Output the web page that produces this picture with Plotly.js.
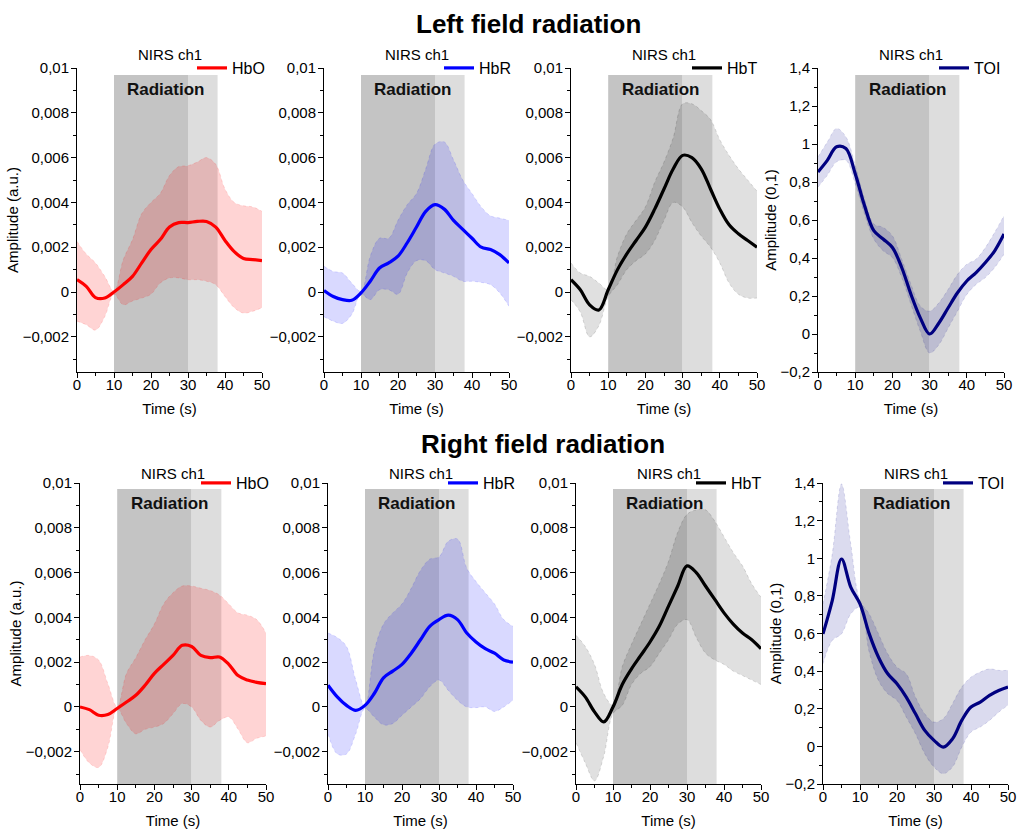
<!DOCTYPE html>
<html>
<head>
<meta charset="utf-8">
<script src="https://cdn.plot.ly/plotly-3.0.1.min.js"></script>
<style>
html,body{margin:0;padding:0;background:#fff;}
#chart{width:1017px;height:830px;}
</style>
</head>
<body>
<div id="chart"></div>
<script>
// ---------------- DATA ----------------
const time = [0,2.5,5,7.5,10,12.5,15,17.5,20,22.5,25,27.5,30,32.5,35,37.5,40,42.5,45,47.5,50];

// Stimulation timing (s)
const stimOn = 10, stimEnd = 30, recEnd = 38;

// Left field radiation
const hboL_mean  = [0.00055,0.00025,-0.00025,-0.00027,0.0,0.00033,0.0007,0.0013,0.0019,0.00234,0.0029,0.0031,0.0031,0.00315,0.00315,0.0029,0.0023,0.0018,0.0015,0.00145,0.0014];
const hboL_upper = [0.00226,0.0017,0.0013,0.0007,0.00003,0.00144,0.00234,0.0035,0.0040,0.0044,0.0052,0.0056,0.00564,0.0058,0.0060,0.0057,0.0046,0.0040,0.00385,0.0038,0.0036];
const hboL_lower = [-0.0013,-0.00146,-0.0017,-0.0011,-0.0001,-0.00057,-0.0004,-0.00027,-0.0001,0.0004,0.00063,0.00063,0.00055,0.00055,0.00048,0.00033,-0.0002,-0.0007,-0.00094,-0.00086,-0.0007];

const hbrL_mean  = [0.00007,-0.0002,-0.00034,-0.00037,-0.00004,0.00048,0.00107,0.0013,0.0016,0.0022,0.0029,0.0036,0.0039,0.0037,0.0032,0.0028,0.0024,0.0020,0.0019,0.00167,0.0013];
const hbrL_upper = [0.00115,0.00092,0.00085,0.0004,0.00003,0.0016,0.0024,0.0024,0.0032,0.0039,0.0044,0.0055,0.0066,0.0067,0.0059,0.0050,0.0044,0.0038,0.0034,0.0033,0.0032];
const hbrL_lower = [-0.0011,-0.0013,-0.0014,-0.0010,-0.0001,-0.00034,0.0001,0.0001,-0.0001,0.00085,0.0014,0.0014,0.0010,0.00085,0.0007,0.00048,0.00048,0.00043,0.00033,-0.00004,-0.00064];

const hbtL_mean  = [0.00055,0.0001,-0.00057,-0.0008,0.0001,0.0010,0.0017,0.0023,0.0029,0.0037,0.0046,0.0055,0.0061,0.0060,0.0055,0.0046,0.0037,0.0030,0.0026,0.0023,0.0020];
const hbtL_upper = [0.0013,0.00085,0.0007,0.0004,0.0001,0.0016,0.0026,0.0032,0.0038,0.0049,0.0058,0.0069,0.0084,0.0084,0.0081,0.0077,0.0068,0.0061,0.0055,0.0050,0.0045];
const hbtL_lower = [-0.00034,-0.0009,-0.0020,-0.0015,-0.0002,0.00033,0.0010,0.0014,0.0017,0.0023,0.0032,0.0040,0.0038,0.0031,0.0025,0.0020,0.0013,0.0004,-0.0001,-0.00027,-0.00027];

const toiL_mean  = [0.853,0.914,0.985,0.976,0.844,0.676,0.544,0.50,0.455,0.35,0.208,0.085,0.0,0.058,0.138,0.217,0.279,0.323,0.376,0.438,0.526];
const toiL_upper = [0.932,1.01,1.082,1.038,0.888,0.711,0.579,0.561,0.517,0.394,0.261,0.147,0.12,0.164,0.235,0.314,0.367,0.394,0.455,0.535,0.623];
const toiL_lower = [0.773,0.835,0.906,0.914,0.791,0.632,0.50,0.438,0.402,0.297,0.155,0.014,-0.10,-0.056,0.032,0.12,0.208,0.261,0.297,0.35,0.42];

// Right field radiation
const hboR_mean  = [0.0,-0.00012,-0.00037,-0.00034,-0.00007,0.00022,0.00052,0.00097,0.0015,0.0019,0.0023,0.00275,0.0027,0.0023,0.0022,0.00223,0.0019,0.0014,0.0012,0.0011,0.00104];
const hboR_upper = [0.00223,0.0023,0.0021,0.00104,0.0,0.0015,0.0022,0.0030,0.0037,0.0046,0.0051,0.0054,0.0054,0.0053,0.0052,0.0050,0.0046,0.0042,0.0041,0.0039,0.0033];
const hboR_lower = [-0.0019,-0.0025,-0.0027,-0.0018,-0.00007,-0.00074,-0.0012,-0.0010,-0.0009,-0.00074,-0.0003,0.00015,0.0,-0.0006,-0.0009,-0.0006,-0.00045,-0.0010,-0.0016,-0.0014,-0.0013];

const hbrR_mean  = [0.00097,0.00045,0.00007,-0.00015,0.00007,0.0006,0.0013,0.0016,0.0019,0.0024,0.0030,0.0036,0.0039,0.0041,0.0039,0.0033,0.0029,0.0026,0.0024,0.0021,0.0020];
const hbrR_upper = [0.0033,0.0031,0.0027,0.0012,0.0,0.0025,0.0037,0.0042,0.0046,0.0053,0.0061,0.0066,0.0067,0.0074,0.0075,0.0062,0.0056,0.0051,0.0046,0.0039,0.0036];
const hbrR_lower = [-0.0012,-0.0021,-0.0021,-0.0012,-0.00007,-0.00045,-0.0008,-0.00074,-0.00037,0.0,0.00037,0.0009,0.0012,0.00074,0.0003,0.0,-0.00003,0.0,-0.0002,0.0,0.0003];

const hbtR_mean  = [0.0009,0.00045,-0.00022,-0.00067,0.0,0.0010,0.0017,0.0023,0.0029,0.0036,0.0045,0.0054,0.0063,0.0060,0.0054,0.0048,0.0042,0.0037,0.0033,0.0030,0.0026];
const hbtR_upper = [0.0032,0.0027,0.0019,0.0006,0.00007,0.0018,0.0028,0.0037,0.0046,0.0055,0.0065,0.0078,0.0086,0.0088,0.0088,0.0083,0.0076,0.0069,0.0063,0.0055,0.0049];
const hbtR_lower = [-0.0016,-0.0025,-0.0033,-0.0022,-0.0003,0.00007,0.0010,0.0015,0.0018,0.0024,0.0030,0.0037,0.0039,0.0031,0.0024,0.0021,0.0019,0.0016,0.0014,0.0012,0.0010];

const toiR_mean  = [0.598,0.775,0.996,0.846,0.757,0.598,0.474,0.386,0.333,0.262,0.173,0.085,0.032,-0.004,0.04,0.138,0.209,0.235,0.271,0.297,0.315];
const toiR_upper = [0.757,1.023,1.395,1.076,0.775,0.704,0.598,0.492,0.421,0.386,0.262,0.173,0.129,0.147,0.227,0.315,0.368,0.395,0.412,0.404,0.404];
const toiR_lower = [0.439,0.563,0.598,0.704,0.74,0.50,0.35,0.28,0.244,0.156,0.067,-0.039,-0.11,-0.145,-0.11,-0.004,0.076,0.103,0.138,0.182,0.218];

// Labels
const seriesNames = ['HbO','HbR','HbT','TOI'];
const rowTitles = ['Left field radiation','Right field radiation'];
const panelTitle = 'NIRS ch1';
const stimLabel = 'Radiation';
const xTitle = 'Time (s)';
const yTitleHb = 'Amplitude (a.u.)';
const yTitleToi = 'Amplitude (0,1)';
const hbTickVals = [-0.002,0,0.002,0.004,0.006,0.008,0.01];
const hbTickText = ['\u22120,002','0','0,002','0,004','0,006','0,008','0,01'];
const toiTickVals = [-0.2,0,0.2,0.4,0.6,0.8,1,1.2,1.4];
const toiTickText = ['\u22120,2','0','0,2','0,4','0,6','0,8','1','1,2','1,4'];

// ---------------- LAYOUT HELPERS ----------------
const W = 1017, H = 830;
const px = v => v / W;
const py = v => 1 - v / H;
const FONT = 'Arial, "Liberation Sans", sans-serif';

const panels = [
  {mean:hboL_mean, up:hboL_upper, lo:hboL_lower, name:seriesNames[0], line:'#ff0000', band:'rgba(255,0,0,0.17)', edge:'rgba(255,0,0,0.22)', toi:false, xd:[77,262], yd:[68,372], yr:[-0.00357,0.01], ytitle:yTitleHb},
  {mean:hbrL_mean, up:hbrL_upper, lo:hbrL_lower, name:seriesNames[1], line:'#0000ff', band:'rgba(0,0,255,0.15)', edge:'rgba(0,0,255,0.22)', toi:false, xd:[324,509], yd:[68,372], yr:[-0.00357,0.01], ytitle:''},
  {mean:hbtL_mean, up:hbtL_upper, lo:hbtL_lower, name:seriesNames[2], line:'#000000', band:'rgba(0,0,0,0.12)', edge:'rgba(0,0,0,0.22)', toi:false, xd:[571,757], yd:[68,372], yr:[-0.00357,0.01], ytitle:''},
  {mean:toiL_mean, up:toiL_upper, lo:toiL_lower, name:seriesNames[3], line:'#000080', band:'rgba(0,0,140,0.14)', edge:'rgba(0,0,140,0.22)', toi:true, xd:[818,1004], yd:[68,372], yr:[-0.2,1.4], ytitle:yTitleToi},
  {mean:hboR_mean, up:hboR_upper, lo:hboR_lower, name:seriesNames[0], line:'#ff0000', band:'rgba(255,0,0,0.17)', edge:'rgba(255,0,0,0.22)', toi:false, xd:[80,266], yd:[483,784], yr:[-0.00344,0.01], ytitle:yTitleHb},
  {mean:hbrR_mean, up:hbrR_upper, lo:hbrR_lower, name:seriesNames[1], line:'#0000ff', band:'rgba(0,0,255,0.15)', edge:'rgba(0,0,255,0.22)', toi:false, xd:[328,513], yd:[483,784], yr:[-0.00344,0.01], ytitle:''},
  {mean:hbtR_mean, up:hbtR_upper, lo:hbtR_lower, name:seriesNames[2], line:'#000000', band:'rgba(0,0,0,0.12)', edge:'rgba(0,0,0,0.22)', toi:false, xd:[576,761], yd:[483,784], yr:[-0.00344,0.01], ytitle:''},
  {mean:toiR_mean, up:toiR_upper, lo:toiR_lower, name:seriesNames[3], line:'#000080', band:'rgba(0,0,140,0.14)', edge:'rgba(0,0,140,0.22)', toi:true, xd:[823,1008], yd:[483,784], yr:[-0.2,1.4], ytitle:yTitleToi}
];

const traces = [];
const layout = {
  width: W, height: H,
  margin: {l:0, r:0, t:0, b:0},
  paper_bgcolor: '#fff', plot_bgcolor: 'rgba(0,0,0,0)',
  font: {family: FONT, color: '#000', size: 15},
  showlegend: true,
  shapes: [], annotations: []
};

panels.forEach((p, i) => {
  const k = i + 1;
  const sfx = k === 1 ? '' : String(k);
  const xa = 'x' + sfx, ya = 'y' + sfx;
  const legName = 'legend' + sfx;
  const topRow = i < 4;

  traces.push({x: time, y: p.lo, xaxis: xa, yaxis: ya, type: 'scatter', mode: 'lines',
    line: {color: p.edge, width: 0.6, dash: 'dot', shape: 'spline', smoothing: 1},
    showlegend: false, hoverinfo: 'skip'});
  traces.push({x: time, y: p.up, xaxis: xa, yaxis: ya, type: 'scatter', mode: 'lines',
    line: {color: p.edge, width: 0.6, dash: 'dot', shape: 'spline', smoothing: 1},
    fill: 'tonexty', fillcolor: p.band, showlegend: false, hoverinfo: 'skip'});
  traces.push({x: time, y: p.mean, xaxis: xa, yaxis: ya, type: 'scatter', mode: 'lines', name: p.name,
    line: {color: p.line, width: 3.2, shape: 'spline', smoothing: 1},
    legend: legName, showlegend: true});

  layout['xaxis' + sfx] = {
    domain: [px(p.xd[0]), px(p.xd[1])], anchor: ya, range: [0, 50],
    tickmode: 'linear', tick0: 0, dtick: 10,
    ticks: 'outside', ticklen: 5, tickwidth: 1, tickcolor: '#000',
    ticklabelstandoff: -6,
    minor: {tickmode: 'linear', tick0: 0, dtick: 5, ticks: 'outside', ticklen: 3, tickwidth: 1, tickcolor: '#000'},
    showline: true, linecolor: '#000', linewidth: 1, showgrid: false, zeroline: false,
    tickfont: {family: FONT, size: 15, color: '#000'},
    title: {text: xTitle, font: {family: FONT, size: 15, color: '#000'}, standoff: 11},
    fixedrange: true
  };
  layout['yaxis' + sfx] = {
    domain: [py(p.yd[1]), py(p.yd[0])], anchor: xa, range: p.yr,
    tickmode: 'array', tickvals: p.toi ? toiTickVals : hbTickVals, ticktext: p.toi ? toiTickText : hbTickText,
    ticks: 'outside', ticklen: 5, tickwidth: 1, tickcolor: '#000',
    ticklabelstandoff: -1,
    minor: {tickmode: 'linear', tick0: 0, dtick: p.toi ? 0.1 : 0.001, ticks: 'outside', ticklen: 3, tickwidth: 1, tickcolor: '#000'},
    showline: true, linecolor: '#000', linewidth: 1, showgrid: false, zeroline: false,
    tickfont: {family: FONT, size: 15, color: '#000'},
    title: {text: p.ytitle, font: {family: FONT, size: 15, color: '#000'}, standoff: 0},
    fixedrange: true
  };

  layout[legName] = {
    x: px(p.xd[1] - 70), xanchor: 'left',
    y: py(p.yd[0]), yanchor: 'middle',
    bgcolor: 'rgba(0,0,0,0)', borderwidth: 0,
    font: {family: FONT, size: 16, color: '#000'}
  };

  const topFrac = topRow ? 0.977 : 0.98;
  layout.shapes.push({type: 'rect', xref: xa, yref: ya + ' domain', x0: stimOn, x1: stimEnd, y0: 0, y1: topFrac,
    fillcolor: '#c4c4c4', line: {width: 0}, layer: 'below'});
  layout.shapes.push({type: 'rect', xref: xa, yref: ya + ' domain', x0: stimEnd, x1: recEnd, y0: 0, y1: topFrac,
    fillcolor: '#dddddd', line: {width: 0}, layer: 'below'});

  layout.annotations.push({text: panelTitle, xref: xa + ' domain', yref: ya + ' domain', x: 0.5, y: 1,
    xanchor: 'center', yanchor: 'middle', yshift: topRow ? 13 : 10, showarrow: false,
    font: {family: FONT, size: 15, color: '#000'}});
  layout.annotations.push({text: stimLabel, xref: xa, yref: ya + ' domain', x: (stimOn + recEnd) / 2, y: 1,
    xanchor: 'center', yanchor: 'middle', yshift: topRow ? -22 : -20, showarrow: false,
    font: {family: FONT, size: 17, color: '#111', weight: 'bold'}});
});

layout.annotations.push({text: rowTitles[0], xref: 'paper', yref: 'paper', x: px(528), y: py(24),
  xanchor: 'center', yanchor: 'middle', showarrow: false, font: {family: FONT, size: 26, color: '#000', weight: 'bold'}});
layout.annotations.push({text: rowTitles[1], xref: 'paper', yref: 'paper', x: px(543), y: py(444),
  xanchor: 'center', yanchor: 'middle', showarrow: false, font: {family: FONT, size: 26, color: '#000', weight: 'bold'}});

Plotly.newPlot('chart', traces, layout, {displayModeBar: false, staticPlot: true});
</script>
</body>
</html>
